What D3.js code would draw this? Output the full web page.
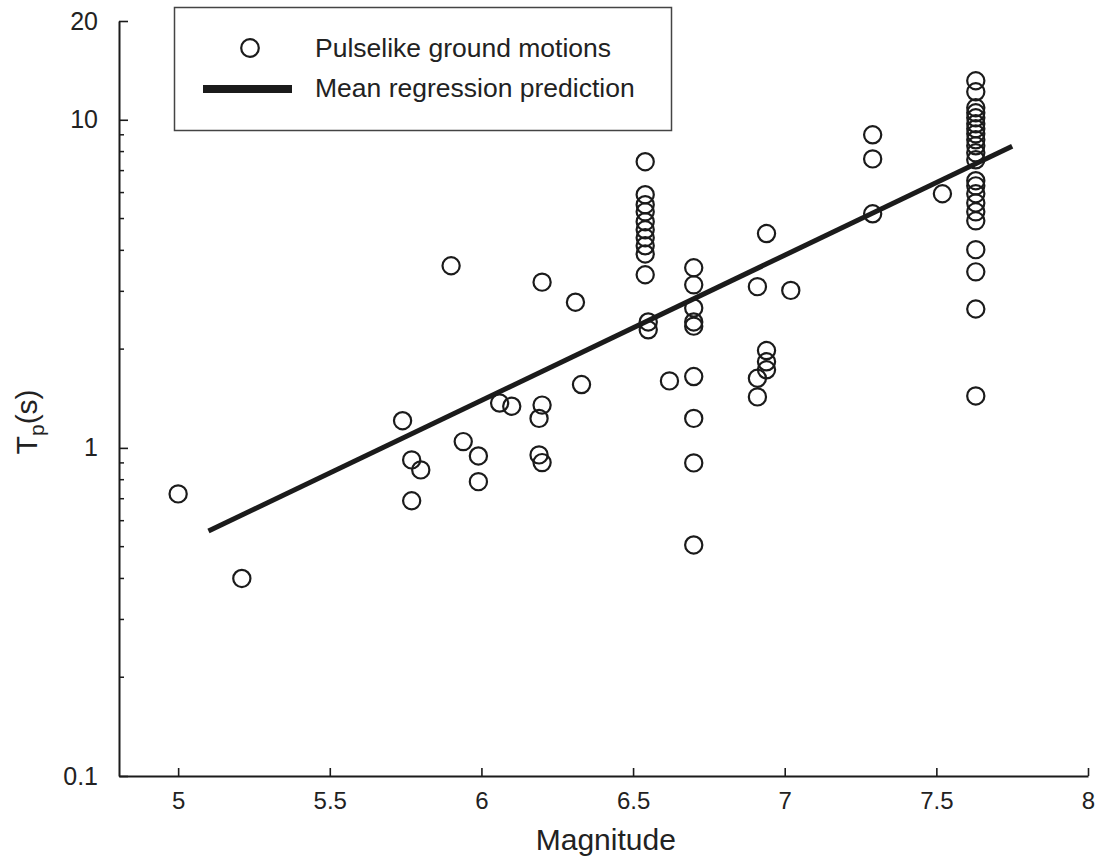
<!DOCTYPE html>
<html>
<head>
<meta charset="utf-8">
<script src="https://cdn.jsdelivr.net/npm/d3@7"></script>
<style>
  body { margin: 0; background: #fff; }
  svg { display: block; font-family: "Liberation Sans", Arial, sans-serif; }
</style>
</head>
<body>
<div id="chart"></div>
<script>
// Pulselike records: magnitude and pulse period Tp (s)
const magnitude = [
    5.00, 5.21, 5.74, 5.77, 5.80, 5.77, 5.90, 5.94, 5.99, 5.99,
    6.06, 6.10, 6.19, 6.20, 6.19, 6.20, 6.20, 6.31, 6.33, 6.62,
    6.54, 6.54, 6.54, 6.54, 6.54, 6.54, 6.54, 6.54, 6.54, 6.54, 6.55, 6.55,
    6.70, 6.70, 6.70, 6.70, 6.70, 6.70, 6.70, 6.70, 6.70,
    6.91, 7.02, 6.94, 6.94, 6.94, 6.91, 6.91, 6.94,
    7.29, 7.29, 7.29, 7.52,
    7.63, 7.63, 7.63, 7.63, 7.63, 7.63, 7.63, 7.63, 7.63, 7.63, 7.63,
    7.63, 7.63, 7.63, 7.63, 7.63, 7.63, 7.63, 7.63, 7.63, 7.63, 7.63
];
const period = [
    0.724, 0.400, 1.21, 0.919, 0.857, 0.690, 3.59, 1.045, 0.945, 0.789,
    1.37, 1.34, 1.23, 1.35, 0.952, 0.902, 3.20, 2.78, 1.56, 1.60,
    7.45, 5.91, 5.51, 5.24, 4.89, 4.62, 4.37, 4.13, 3.90, 3.37, 2.42, 2.29,
    3.54, 3.14, 2.67, 2.42, 2.35, 1.65, 1.23, 0.90, 0.506,
    3.10, 3.02, 1.98, 1.83, 1.73, 1.63, 1.43, 4.50,
    9.0, 7.60, 5.17, 5.95,
    13.15, 12.17, 10.88, 10.50, 10.14, 9.72, 9.39, 9.06, 8.69, 8.33, 7.93,
    7.55, 6.52, 6.29, 5.95, 5.58, 5.24, 4.92, 4.02, 3.44, 2.65, 1.44
];

// Mean regression prediction end points
const regMagnitude = [5.10, 7.75];
const regPeriod = [0.558, 8.30];

const xTicks = [5, 5.5, 6, 6.5, 7, 7.5, 8];
const yTicks = [0.1, 1, 10, 20];
const legendLabels = ["Pulselike ground motions", "Mean regression prediction"];

const width = 1104;
const height = 865;
const margin = {top: 21, right: 16, bottom: 89, left: 119};

const svg = d3.select("#chart").append("svg")
    .attr("width", width)
    .attr("height", height);

const x = d3.scaleLinear()
    .domain([4.805, 8])
    .range([margin.left, width - margin.right]);

const y = d3.scaleLog()
    .domain([0.1, 20])
    .range([height - margin.bottom, margin.top]);

const ink = "#1b1b1b";

// minor ticks on the log axis
const minorTicks = [];
[0.1, 1].forEach(base => {
    for (let k = 2; k <= 9; k++) minorTicks.push(base * k);
});

const xAxis = d3.axisBottom(x)
    .tickValues(xTicks)
    .tickFormat(d3.format("~g"))
    .tickSizeInner(-8)
    .tickSizeOuter(0)
    .tickPadding(16);

const yAxis = d3.axisLeft(y)
    .tickValues(yTicks)
    .tickFormat(d3.format("~g"))
    .tickSizeInner(-9)
    .tickSizeOuter(0)
    .tickPadding(21);

const gx = svg.append("g")
    .attr("transform", `translate(0,${height - margin.bottom})`)
    .call(xAxis);

gx.select(".domain").attr("stroke", ink).attr("stroke-width", 2);
gx.selectAll(".tick line").attr("stroke", ink).attr("stroke-width", 1.6);
gx.selectAll(".tick text")
    .attr("fill", "#222")
    .style("font-size", "24px");

const gy = svg.append("g")
    .attr("transform", `translate(${margin.left},0)`)
    .call(yAxis);

gy.select(".domain").attr("stroke", ink).attr("stroke-width", 2);
gy.selectAll(".tick line").attr("stroke", ink).attr("stroke-width", 1.6);
gy.selectAll(".tick text")
    .attr("fill", "#222")
    .style("font-size", "25px");

gy.selectAll(".minor")
    .data(minorTicks)
    .join("line")
    .attr("class", "minor")
    .attr("x1", 0)
    .attr("x2", 5)
    .attr("y1", d => y(d))
    .attr("y2", d => y(d))
    .attr("stroke", ink)
    .attr("stroke-width", 1.5);

// axis titles
svg.append("text")
    .attr("x", x(6.41))
    .attr("y", height - 15)
    .attr("text-anchor", "middle")
    .attr("fill", "#222")
    .style("font-size", "30px")
    .text("Magnitude");

const yTitle = svg.append("text")
    .attr("transform", `translate(37,${y(1) - 26}) rotate(-90)`)
    .attr("text-anchor", "middle")
    .attr("fill", "#222")
    .style("font-size", "30px");
yTitle.append("tspan").text("T");
yTitle.append("tspan").attr("dy", 7).style("font-size", "21px").text("p");
yTitle.append("tspan").attr("dy", -7).text("(s)");

// regression line
const line = d3.line()
    .x(d => x(d[0]))
    .y(d => y(d[1]));

svg.append("path")
    .datum(d3.zip(regMagnitude, regPeriod))
    .attr("d", line)
    .attr("fill", "none")
    .attr("stroke", ink)
    .attr("stroke-width", 5);

// data points
svg.append("g")
    .selectAll("circle")
    .data(d3.zip(magnitude, period))
    .join("circle")
    .attr("cx", d => x(d[0]))
    .attr("cy", d => y(d[1]))
    .attr("r", 8.6)
    .attr("fill", "none")
    .attr("stroke", ink)
    .attr("stroke-width", 2.2);

// legend
const legend = svg.append("g");

legend.append("rect")
    .attr("x", 174.5)
    .attr("y", 7.5)
    .attr("width", 497)
    .attr("height", 123)
    .attr("fill", "#fff")
    .attr("stroke", "#444")
    .attr("stroke-width", 1.5);

legend.append("circle")
    .attr("cx", 250)
    .attr("cy", 48)
    .attr("r", 8.8)
    .attr("fill", "none")
    .attr("stroke", ink)
    .attr("stroke-width", 2.2);

legend.append("line")
    .attr("x1", 203)
    .attr("x2", 292)
    .attr("y1", 89)
    .attr("y2", 89)
    .attr("stroke", ink)
    .attr("stroke-width", 8);

legend.selectAll(".label")
    .data(legendLabels)
    .join("text")
    .attr("class", "label")
    .attr("x", 315)
    .attr("y", (d, i) => 48 + i * 40)
    .attr("dy", "0.35em")
    .attr("fill", "#222")
    .style("font-size", "26.5px")
    .text(d => d);
</script>
</body>
</html>
